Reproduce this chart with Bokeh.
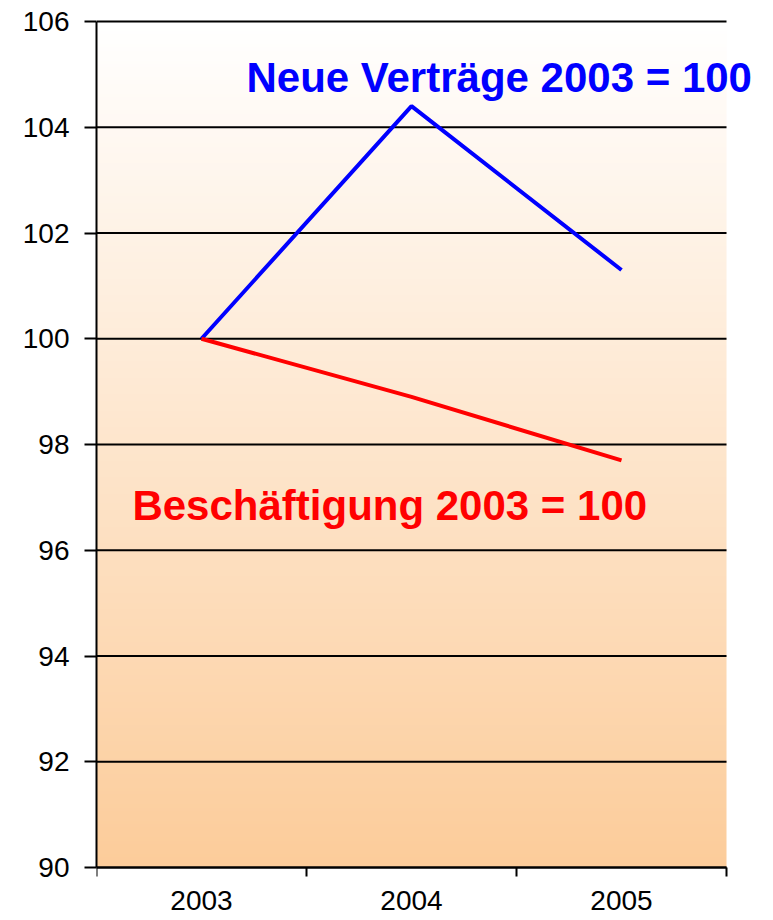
import numpy as np
from bokeh.plotting import figure
from bokeh.models import FixedTicker, Label, Range1d
from bokeh.embed import file_html
from bokeh.resources import INLINE

# ---- data ----
years = ["2003", "2004", "2005"]
neue_vertraege = [100.0, 104.4, 101.3]
beschaeftigung = [100.0, 98.9, 97.7]
y_ticks = [90, 92, 94, 96, 98, 100, 102, 104, 106]

x_pos = [i + 0.5 for i in range(len(years))]
x_min, x_max = 0, len(years)
y_min, y_max = y_ticks[0], y_ticks[-1]

# ---- layout (pixels) ----
W, H = 765, 919
border_left, border_top = 96, 19
top_pad = 2                            # px of frame above the top grid line
chart_w, chart_h = 630, 846            # drawn chart area inside the frame
frame_w, frame_h = W - border_left, H - border_top
px_per_y = chart_h / (y_max - y_min)
x_view_max = x_min + (x_max - x_min) * frame_w / chart_w
y_view_max = y_max + top_pad / px_per_y
y_view_min = y_view_max - frame_h / px_per_y

p = figure(width=W, height=H, output_backend="svg", toolbar_location=None,
           x_range=Range1d(x_min, x_view_max), y_range=Range1d(y_view_min, y_view_max),
           min_border_left=border_left, min_border_right=0,
           min_border_top=border_top, min_border_bottom=0)
p.outline_line_color = None
p.background_fill_color = "white"
p.border_fill_color = "white"

# gradient background (white at top -> light orange at bottom)
n = 256
t = np.linspace(0.0, 1.0, n)  # 0 at bottom, 1 at top
bottom = np.array([252, 204, 154])
top = np.array([255, 255, 255])
img = np.empty((n, 1), dtype=np.uint32)
view = img.view(dtype=np.uint8).reshape((n, 1, 4))
for c in range(3):
    view[:, 0, c] = np.round(bottom[c] + (top[c] - bottom[c]) * t).astype(np.uint8)
view[:, 0, 3] = 255
p.image_rgba(image=[img], x=x_min, y=y_min, dw=x_max - x_min, dh=y_max - y_min,
             level="image")

# horizontal grid lines limited to the chart area
p.segment(x0=[x_min] * len(y_ticks), x1=[x_max] * len(y_ticks),
          y0=y_ticks, y1=y_ticks, line_color="black", line_width=2)

# lines
p.line(x_pos, neue_vertraege, line_color="#0000FF", line_width=4)
p.line(x_pos, beschaeftigung, line_color="#FF0000", line_width=4)

# axes
p.xgrid.visible = False
p.ygrid.visible = False

xt = FixedTicker(ticks=x_pos, minor_ticks=list(range(x_min, x_max + 1)))
p.xaxis.ticker = xt
p.xaxis.fixed_location = y_min
p.xaxis.bounds = (x_min, x_max)
p.xaxis.major_label_overrides = {x: lab for x, lab in zip(x_pos, years)}
p.xaxis.major_tick_line_color = None
p.xaxis.major_tick_out = 9
p.xaxis.major_tick_in = 0
p.xaxis.minor_tick_out = 9
p.xaxis.minor_tick_in = 0
p.xaxis.minor_tick_line_color = "black"
p.xaxis.minor_tick_line_width = 2
p.xaxis.major_label_standoff = 14

yt = FixedTicker(ticks=y_ticks, minor_ticks=[])
p.yaxis.ticker = yt
p.yaxis.bounds = (y_min, y_max)
p.yaxis.major_tick_out = 12
p.yaxis.major_tick_in = 0
p.yaxis.major_tick_line_width = 2
p.yaxis.major_tick_line_color = "black"
p.yaxis.major_label_standoff = 15

for ax in (p.xaxis, p.yaxis):
    ax.axis_line_color = "black"
    ax.axis_line_width = 2
    ax.major_label_text_font = "Liberation Sans"
    ax.major_label_text_font_size = "28px"
    ax.major_label_text_color = "black"

# series labels
p.add_layout(Label(x=0.714, y=104.68, y_offset=14, text="Neue Verträge 2003 = 100",
                   text_font="Liberation Sans", text_font_style="bold",
                   text_font_size="42px", text_color="#0000FF",
                   text_baseline="alphabetic"))
p.add_layout(Label(x=0.171, y=96.58, y_offset=14, text="Beschäftigung 2003 = 100",
                   text_font="Liberation Sans", text_font_style="bold",
                   text_font_size="42px", text_color="#FF0000",
                   text_baseline="alphabetic"))

open("out.html", "w").write(file_html(p, INLINE))
